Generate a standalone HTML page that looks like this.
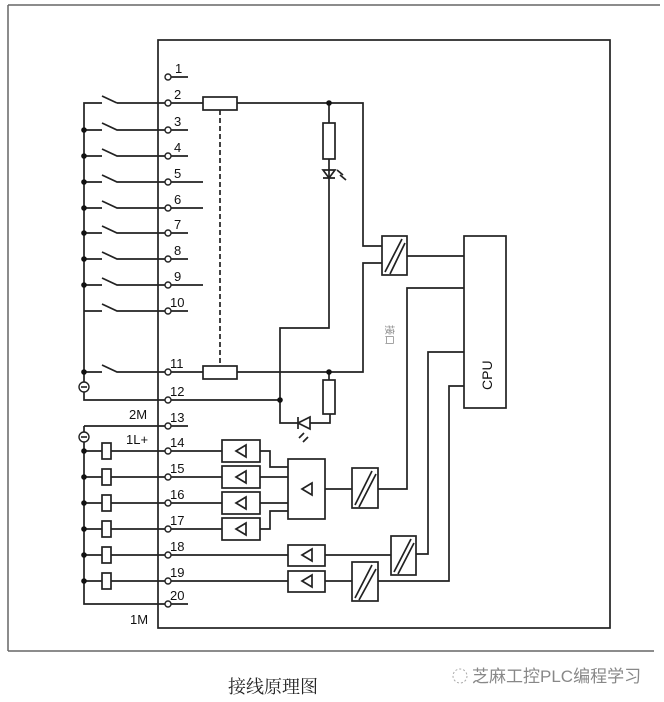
<!DOCTYPE html>
<html><head><meta charset="utf-8"><style>
html,body{margin:0;padding:0;background:#fff;width:664px;height:702px;overflow:hidden}
svg{display:block}
text{font-family:"Liberation Sans",Arial,sans-serif;fill:#111}
</style></head><body>
<svg width="664" height="702" viewBox="0 0 664 702" xmlns="http://www.w3.org/2000/svg">
<g stroke="#666" stroke-width="1.5" fill="none">
<line x1="8" y1="5" x2="660" y2="5"/><line x1="8" y1="5" x2="8" y2="651"/><line x1="8" y1="651" x2="654" y2="651"/>
</g>
<g stroke="#222" stroke-width="1.7" fill="none">
<rect x="158" y="40" width="452" height="588"/>
<polyline points="102,103 84,103 84,400 280,400"/>
<line x1="102" y1="96" x2="117" y2="103"/><line x1="117" y1="103" x2="165" y2="103"/>
<path d="M84 130H102M102 123L117 130H165"/>
<path d="M84 156H102M102 149L117 156H165"/>
<path d="M84 182H102M102 175L117 182H165"/>
<path d="M84 208H102M102 201L117 208H165"/>
<path d="M84 233H102M102 226L117 233H165"/>
<path d="M84 259H102M102 252L117 259H165"/>
<path d="M84 285H102M102 278L117 285H165"/>
<path d="M84 311H102M102 304L117 311H165"/>
<path d="M84 372H102M102 365L117 372H165"/>
<path d="M171 77H188M171 130H188M171 156H188M171 182H203M171 208H203M171 233H188M171 259H188M171 285H203M171 311H188M171 426H188M171 604H188"/>
<path d="M171 103H203M237 103H363V246H382M171 372H203M237 372H363V263H382"/>
<rect x="203" y="97" width="34" height="13"/><rect x="203" y="366" width="34" height="13"/>
<line x1="220" y1="110" x2="220" y2="366" stroke-dasharray="5,3"/>
<path d="M329 103V123M329 159V328H280V423H298M310 423H330V414M329 372V380"/>
<rect x="323" y="123" width="12" height="36"/>
<rect x="323" y="380" width="12" height="34"/>
<path d="M323 170H335L329 178Z M323 178H335"/>
<path d="M337 170l6 5M340 175l6 5"/>
<path d="M298 417V429M298 423L310 417V429Z"/>
<path d="M304 433l-5 5M308 437l-5 5"/>
<rect x="382" y="236" width="25" height="39"/><path d="M385 272L402 239M390 274L405 243"/>
<path d="M407 256H464"/>
<rect x="464" y="236" width="42" height="172"/>
<path d="M464 288H407V489H378M464 352H428V554H416M464 386H449V581H378"/>
<path d="M84 426V604H165M84 426H165"/>
<path d="M84 451H165M84 477H165M84 503H165M84 529H165M84 555H165M84 581H165"/>
<rect x="102" y="443" width="9" height="16" fill="#fff"/><rect x="102" y="469" width="9" height="16" fill="#fff"/>
<rect x="102" y="495" width="9" height="16" fill="#fff"/><rect x="102" y="521" width="9" height="16" fill="#fff"/>
<rect x="102" y="547" width="9" height="16" fill="#fff"/><rect x="102" y="573" width="9" height="16" fill="#fff"/>
<path d="M171 451H222M171 477H222M171 503H222M171 529H222M171 555H288M171 581H288"/>
<rect x="222" y="440" width="38" height="22"/><rect x="222" y="466" width="38" height="22"/>
<rect x="222" y="492" width="38" height="22"/><rect x="222" y="518" width="38" height="22"/>
<path d="M260 451H270V467H288M260 477H288M260 503H288M260 529H270V511H288"/>
<rect x="288" y="459" width="37" height="60"/>
<path d="M325 489H352"/>
<rect x="352" y="468" width="26" height="40"/><path d="M355 505L372 471M359 507L376 474"/>
<rect x="288" y="545" width="37" height="21"/><rect x="288" y="571" width="37" height="21"/>
<path d="M325 555H391M325 581H352"/>
<rect x="391" y="536" width="25" height="39"/><path d="M394 572L411 539M398 574L414 543"/>
<rect x="352" y="562" width="26" height="39"/><path d="M355 598L372 565M359 600L376 569"/>
<path d="M246 445L236 451L246 457Z M246 471L236 477L246 483Z M246 497L236 503L246 509Z M246 523L236 529L246 535Z M312 483L302 489L312 495Z M312 549L302 555L312 561Z M312 575L302 581L312 587Z"/>
</g>
<g fill="#fff" stroke="#222" stroke-width="1.4">
<circle cx="168" cy="77" r="3"/><circle cx="168" cy="103" r="3"/><circle cx="168" cy="130" r="3"/><circle cx="168" cy="156" r="3"/><circle cx="168" cy="182" r="3"/><circle cx="168" cy="208" r="3"/><circle cx="168" cy="233" r="3"/><circle cx="168" cy="259" r="3"/><circle cx="168" cy="285" r="3"/><circle cx="168" cy="311" r="3"/><circle cx="168" cy="372" r="3"/><circle cx="168" cy="400" r="3"/><circle cx="168" cy="426" r="3"/><circle cx="168" cy="451" r="3"/><circle cx="168" cy="477" r="3"/><circle cx="168" cy="503" r="3"/><circle cx="168" cy="529" r="3"/><circle cx="168" cy="555" r="3"/><circle cx="168" cy="581" r="3"/><circle cx="168" cy="604" r="3"/>
<circle cx="84" cy="387" r="5"/><circle cx="84" cy="437" r="5"/>
</g>
<g stroke="#222" stroke-width="1.6"><line x1="81" y1="387" x2="87" y2="387"/><line x1="81" y1="437" x2="87" y2="437"/></g>
<g fill="#111">
<circle cx="84" cy="130" r="2.8"/><circle cx="84" cy="156" r="2.8"/><circle cx="84" cy="182" r="2.8"/><circle cx="84" cy="208" r="2.8"/><circle cx="84" cy="233" r="2.8"/><circle cx="84" cy="259" r="2.8"/><circle cx="84" cy="285" r="2.8"/><circle cx="84" cy="372" r="2.8"/>
<circle cx="84" cy="451" r="2.8"/><circle cx="84" cy="477" r="2.8"/><circle cx="84" cy="503" r="2.8"/><circle cx="84" cy="529" r="2.8"/><circle cx="84" cy="555" r="2.8"/><circle cx="84" cy="581" r="2.8"/>
<circle cx="329" cy="103" r="2.8"/><circle cx="329" cy="372" r="2.8"/><circle cx="280" cy="400" r="2.8"/>
</g>
<g font-size="13">
<text x="175" y="73">1</text><text x="174" y="99">2</text><text x="174" y="126">3</text><text x="174" y="152">4</text><text x="174" y="178">5</text><text x="174" y="204">6</text><text x="174" y="229">7</text><text x="174" y="255">8</text><text x="174" y="281">9</text><text x="170" y="307">10</text><text x="170" y="368">11</text><text x="170" y="396">12</text><text x="170" y="422">13</text><text x="170" y="447">14</text><text x="170" y="473">15</text><text x="170" y="499">16</text><text x="170" y="525">17</text><text x="170" y="551">18</text><text x="170" y="577">19</text><text x="170" y="600">20</text>
<text x="129" y="419">2M</text><text x="126" y="444">1L+</text><text x="130" y="624">1M</text>
<text transform="translate(492,390) rotate(-90)" font-size="14">CPU</text>
</g>
<text transform="translate(386,325) rotate(90)" font-size="10" style="font-family:'Noto Sans CJK SC',sans-serif;fill:#888">接口</text>
<text x="228" y="693" font-size="18" style="font-family:'Noto Serif CJK SC',serif;fill:#222">接线原理图</text>
<text x="472" y="682" font-size="17" style="font-family:'Liberation Sans','Noto Sans CJK SC',sans-serif;fill:#888">芝麻工控PLC编程学习</text>
<circle cx="460" cy="676" r="7" fill="none" stroke="#aaa" stroke-width="1" stroke-dasharray="2,2"/>
</svg>
</body></html>
